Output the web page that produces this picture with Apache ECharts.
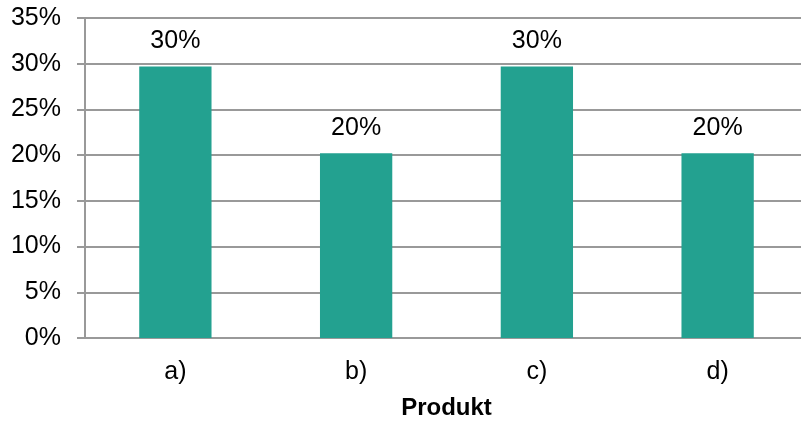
<!DOCTYPE html>
<html>
<head>
<meta charset="utf-8">
<script src="https://cdn.jsdelivr.net/npm/echarts@6/dist/echarts.min.js"></script>
<style>
html,body{margin:0;padding:0;background:#fff;}
#c{width:801px;height:421px;}
</style>
</head>
<body>
<div id="c"></div>
<script>
var categories = ['a)', 'b)', 'c)', 'd)'];
var values = [29.7, 20.2, 29.7, 20.2];
var axisName = 'Produkt';

var FONT = '"Liberation Sans", Arial, sans-serif';
var chart = echarts.init(document.getElementById('c'), null, {renderer: 'canvas'});
chart.setOption({
  animation: false,
  backgroundColor: '#ffffff',
  grid: {left: 85, top: 18, width: 723, height: 320, containLabel: false, outerBoundsMode: 'none'},
  xAxis: {
    type: 'category',
    data: categories,
    axisLine: {show: true, lineStyle: {color: '#999999', width: 2}},
    axisTick: {show: false},
    axisLabel: {color: '#000', fontFamily: FONT, fontSize: 25, margin: 22},
    name: axisName,
    nameLocation: 'middle',
    nameGap: 58,
    nameTextStyle: {color: '#000', fontFamily: FONT, fontSize: 24, fontWeight: 'bold'}
  },
  yAxis: {
    type: 'value',
    min: 0, max: 35, interval: 5,
    axisLine: {show: true, lineStyle: {color: '#999999', width: 2}},
    axisTick: {show: true, length: 8, lineStyle: {color: '#999999', width: 2}},
    axisLabel: {color: '#000', fontFamily: FONT, fontSize: 25, margin: 24,
      formatter: function (v) { return v + '%'; }},
    splitLine: {show: true, lineStyle: {color: '#999999', width: 2}}
  },
  series: [{
    type: 'bar',
    data: values,
    barWidth: '40%',
    itemStyle: {color: '#23A190'},
    label: {
      show: true, position: 'top', distance: 13,
      color: '#000', fontFamily: FONT, fontSize: 25,
      formatter: function (p) { return Math.round(p.value) + '%'; }
    }
  }]
});
</script>
</body>
</html>
